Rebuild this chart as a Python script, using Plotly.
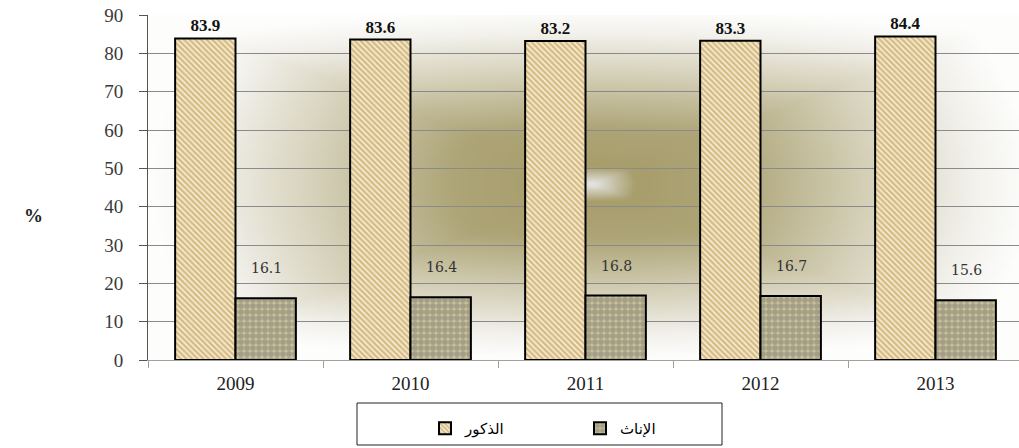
import base64, struct, zlib
import plotly.graph_objects as go

# ---------------- data ----------------
years = ["2009", "2010", "2011", "2012", "2013"]
males = [83.9, 83.6, 83.2, 83.3, 84.4]
females = [16.1, 16.4, 16.8, 16.7, 15.6]
male_name = "الذكور"
female_name = "الإناث"
y_ticks = [0, 10, 20, 30, 40, 50, 60, 70, 80, 90]

# body margin is removed via post_script -> figure origin at (0, 0)
OFF = 0
FW, FH = 1019 - OFF, 448 - OFF
PL, PR, PT, PB = 148, 1019, 15, 360   # plot area in window pixels
PW, PH = PR - PL, PB - PT

def px(xw):
    return (xw - PL) / PW

def py(yw):
    return (PB - yw) / PH

# ---------------- background gradient (decoration) ----------------
def make_png(w, h, pix):
    raw = b"".join(b"\x00" + bytes(row) for row in pix)
    def chunk(t, d):
        c = struct.pack(">I", len(d)) + t + d
        return c + struct.pack(">I", zlib.crc32(t + d) & 0xffffffff)
    return (b"\x89PNG\r\n\x1a\n" + chunk(b"IHDR", struct.pack(">IIBBBBB", w, h, 8, 2, 0, 0, 0))
            + chunk(b"IDAT", zlib.compress(raw, 9)) + chunk(b"IEND", b""))

stops = [(0.0, (232, 232, 233)), (0.10, (168, 158, 108)), (0.32, (174, 165, 120)),
         (0.62, (212, 207, 182)), (0.88, (243, 242, 237)), (1.0, (253, 253, 252))]

def col(d):
    d = min(d, 1.0)
    for (a, ca), (b, cb) in zip(stops, stops[1:]):
        if d <= b:
            t = (d - a) / (b - a)
            return [int(ca[i] + (cb[i] - ca[i]) * t) for i in range(3)]
    return list(stops[-1][1])

W, H = 220, 110
uc, vc = 0.51, 0.49
pix = []
for j in range(H):
    v = (j + 0.5) / H
    row = []
    for i in range(W):
        u = (i + 0.5) / W
        du, dv = abs(u - uc) / 0.5, abs(v - vc) / 0.5
        d = max(du, dv) * 0.65 + (du * du + dv * dv) ** 0.5 * 0.35
        row += col(d)
    pix.append(row)
bg_uri = "data:image/png;base64," + base64.b64encode(make_png(W, H, pix)).decode()

serif = "Liberation Serif"

fig = go.Figure()
fig.add_trace(go.Bar(
    x=years, y=males, name=male_name,
    marker=dict(color="#fbf3dc", line=dict(color="black", width=2),
                pattern=dict(shape="\\", fgcolor="#b0842a", bgcolor="#fcf5e0", size=4, solidity=0.65)),
    text=[f"{v:.1f}" for v in males], textposition="outside",
    textfont=dict(family=serif, size=17, color="#111111", weight="bold"),
    cliponaxis=False,
))
fig.add_trace(go.Bar(
    x=years, y=females, name=female_name,
    marker=dict(color="#c9c095", line=dict(color="black", width=2),
                pattern=dict(shape=".", fgcolor="#7c7c7c", bgcolor="#c9c095", size=6, solidity=0.7)),
    cliponaxis=False,
))

for i, v in enumerate(females):
    fig.add_annotation(x=i, y=v, xref="x", yref="y", text=f"{v:.1f}", showarrow=False,
                       xshift=31, yshift=20, yanchor="bottom",
                       font=dict(family="DejaVu Serif", size=14, color="#333333"))

fig.add_annotation(x=px(22), y=py(215), xref="paper", yref="paper",
                   text="<b>%</b>", showarrow=False,
                   font=dict(family=serif, size=19, color="#222222"))

# legend box
fig.add_shape(type="rect", xref="paper", yref="paper",
              x0=px(357), x1=px(722), y0=py(445), y1=py(403),
              line=dict(color="#222222", width=1), fillcolor="white", layer="above")

fig.add_layout_image(dict(source=bg_uri, xref="paper", yref="paper", x=0, y=1, sizex=1, sizey=1,
                          sizing="stretch", layer="below", xanchor="left", yanchor="top"))

fig.update_layout(
    width=FW, height=FH,
    margin=dict(l=PL - OFF, r=0, t=PT - OFF, b=FH - (PB - OFF), autoexpand=False),
    paper_bgcolor="white", plot_bgcolor="rgba(0,0,0,0)",
    barmode="group", bargap=0.31, bargroupgap=0,
    showlegend=True,
    legend=dict(orientation="h", x=px(425), y=py(412), xanchor="left", yanchor="top",
                entrywidth=110, font=dict(family="DejaVu Sans", size=15, color="black"),
                bgcolor="rgba(0,0,0,0)", traceorder="normal"),
    font=dict(family=serif),
)
fig.update_yaxes(range=[0, 90], tickvals=y_ticks, showgrid=True, gridcolor="#8a8a8a", gridwidth=1,
                 showline=True, linecolor="#555555", linewidth=1, ticks="outside", ticklen=8,
                 tickcolor="#555555", ticklabelstandoff=12, automargin=False,
                 ticklabeloverflow="allow",
                 tickfont=dict(family=serif, size=19, color="#3a3a3a"), zeroline=False)
fig.update_xaxes(type="category", range=[-0.5, -0.5 + PW / 175], showline=True, linecolor="#a0a0a0",
                 linewidth=1, ticks="outside", tickson="boundaries", ticklen=7, tickcolor="#a0a0a0",
                 automargin=False,
                 tickfont=dict(family=serif, size=19, color="#222222"), ticklabelstandoff=6)

fig.write_html("out.html", config={"displayModeBar": False},
               post_script="document.body.style.margin='0';document.body.style.overflow='hidden';")
